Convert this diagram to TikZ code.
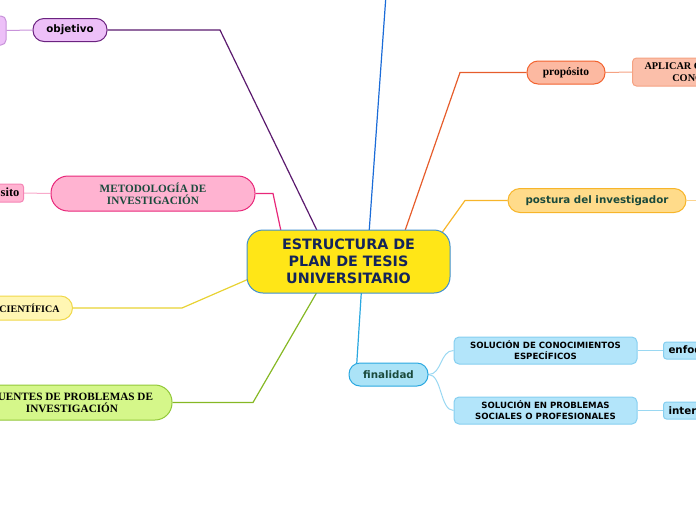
\documentclass[tikz,border=0pt]{standalone}
\usepackage{fontspec}
\setmainfont{DejaVu Sans}
\newfontfamily\serifb{Liberation Serif}
\usetikzlibrary{backgrounds,calc}
\definecolor{cfill}{HTML}{FFE617}
\definecolor{cbord}{HTML}{3E8FD1}
\definecolor{ctext}{HTML}{13245A}
\definecolor{gtext}{HTML}{1A4A3C}
\definecolor{vfill}{HTML}{EDC0F8}
\definecolor{vbord}{HTML}{6B2380}
\definecolor{vlight}{HTML}{C892DA}
\definecolor{vline}{HTML}{5B1A6E}
\definecolor{pfill}{HTML}{FFB3D1}
\definecolor{pbord}{HTML}{E8287A}
\definecolor{plight}{HTML}{F585B5}
\definecolor{yfill}{HTML}{FFF6B3}
\definecolor{ybord}{HTML}{F0D84A}
\definecolor{yline}{HTML}{E8D232}
\definecolor{gfill}{HTML}{D5F78A}
\definecolor{gbord}{HTML}{92C83A}
\definecolor{gline}{HTML}{86B824}
\definecolor{bline}{HTML}{1B6CD8}
\definecolor{ofill}{HTML}{FCB9A1}
\definecolor{obord}{HTML}{F2622E}
\definecolor{olight}{HTML}{F5A282}
\definecolor{aflll}{HTML}{FBBFAA}
\definecolor{pofill}{HTML}{FFDB8A}
\definecolor{pobord}{HTML}{F7B52A}
\definecolor{polight}{HTML}{FCD48E}
\definecolor{lbfill}{HTML}{ABE3F7}
\definecolor{lbbord}{HTML}{2AA8E0}
\definecolor{sfill}{HTML}{B3E5FA}
\definecolor{sbord}{HTML}{86CFF0}
\definecolor{slight}{HTML}{9AD8F2}
\tikzset{
  mm/.style={draw, line width=1pt, align=center, inner sep=0pt},
  pill/.style={mm, rounded corners=11pt},
  sansb/.style={font=\bfseries\fontsize{10.3}{12}\selectfont},
  serb/.style={font=\serifb\bfseries\fontsize{11.2}{12}\selectfont},
  br/.style={line width=1.2pt},
  lt/.style={line width=1pt},
}
\begin{document}
\begin{tikzpicture}[x=1pt,y=-1pt]
\useasboundingbox (0,0) rectangle (696,520);
% central
\node[mm, rounded corners=16pt, fill=cfill, draw=cbord, text=ctext,
  minimum width=203pt, minimum height=63pt,
  font=\bfseries\fontsize{14.3}{17}\selectfont] (c) at (348.5,261.5)
  {ESTRUCTURA DE\\PLAN DE TESIS\\ UNIVERSITARIO};
% left side
\node[pill, fill=vfill, draw=vbord, sansb, minimum width=74pt, minimum height=23pt] (obj) at (70,30) {objetivo};
\node[mm, rounded corners=5pt, fill=vfill, draw=vlight, minimum width=26pt, minimum height=29pt] (vleft) at (-7,30.5) {};
\node[mm, rounded corners=17pt, fill=pfill, draw=pbord, serb, text=gtext, minimum width=204pt, minimum height=35pt] (met) at (153,193.5) {METODOLOGÍA DE\\INVESTIGACIÓN};
\node[mm, rounded corners=3pt, fill=pfill, draw=plight, font=\serifb\bfseries\fontsize{12.5}{12}\selectfont, anchor=east, inner xsep=4pt, minimum height=18pt] (sito) at (24,193) {propósito};
\node[pill, rounded corners=12pt, fill=yfill, draw=ybord, font=\serifb\bfseries\fontsize{10}{12}\selectfont, anchor=east, inner xsep=13pt, minimum height=24pt] (cien) at (73,308) {CIENTÍFICA};
\node[mm, rounded corners=17pt, fill=gfill, draw=gbord, serb, minimum width=200pt, minimum height=35pt] (fuen) at (72,402.5) {FUENTES DE PROBLEMAS DE\\INVESTIGACIÓN};
% right side
\node[pill, fill=ofill, draw=obord, font=\serifb\bfseries\fontsize{11.5}{12}\selectfont, minimum width=78pt, minimum height=23pt] (prop) at (566,72.5) {propósito};
\node[mm, rounded corners=4pt, fill=aflll, draw=olight, font=\serifb\bfseries\fontsize{10.3}{12}\selectfont, anchor=west, inner xsep=12pt, minimum height=28pt] (apl) at (632,72) {APLICAR CONOCIMIENTOS\\CONCEPTUALES};
\node[pill, rounded corners=12pt, fill=pofill, draw=pobord, sansb, text=gtext, minimum width=178pt, minimum height=24pt] (post) at (597,200.5) {postura del investigador};
\node[pill, fill=lbfill, draw=lbbord, sansb, text=gtext, minimum width=79pt, minimum height=23pt] (fin) at (388.5,374.5) {finalidad};
\node[mm, rounded corners=5pt, fill=sfill, draw=sbord, font=\bfseries\fontsize{8.6}{11}\selectfont, minimum width=183pt, minimum height=27pt] (s1) at (545.5,350.5) {SOLUCIÓN DE CONOCIMIENTOS\\ESPECÍFICOS};
\node[mm, rounded corners=5pt, fill=sfill, draw=sbord, font=\bfseries\fontsize{8.6}{11}\selectfont, minimum width=183pt, minimum height=27pt] (s2) at (545.5,410.5) {SOLUCIÓN EN PROBLEMAS\\SOCIALES O PROFESIONALES};
\node[mm, rounded corners=3pt, fill=sfill, draw=sbord, sansb, anchor=west, inner xsep=5pt, minimum height=17pt] (enf) at (663,350.5) {enfoque};
\node[mm, rounded corners=3pt, fill=sfill, draw=sbord, sansb, anchor=west, inner xsep=5pt, minimum height=17pt] (inter) at (663,410.5) {intervención};
% coordinates
\coordinate (kp) at (220,30);
\coordinate (km) at (273,193.5);
\coordinate (kb) at (386,-5);
\coordinate (ko) at (460,72.5);
\coordinate (kpo) at (465,200.5);
\coordinate (kpr) at (702,200.5);
\coordinate (ky) at (182,308);
\coordinate (kg) at (253,402.5);
\begin{pgfonlayer}{background}
\draw[br, vline] (obj.east) -- (kp) -- ($(c.north)+(-30,4)$);
\draw[br, pbord] (met.east) -- (km) -- ($(c.north west)+(35,4)$);
\draw[br, bline] ($(c.north)+(20.5,4)$) -- (kb);
\draw[br, obord!95!black] ($(c.north)+(55.5,4)$) -- (ko) -- (prop.west);
\draw[br, pobord] ($(c.north east)+(-12,8)$) -- (kpo) -- (post.west);
\draw[br, yline] ($(c.west)+(8,15)$) -- (ky) -- (cien.east);
\draw[br, gline] ($(c.south)+(-30,-4)$) -- (kg) -- (fuen.east);
\draw[br, lbbord] ($(c.south)+(13,-4)$) -- ($(fin.north west)+(8,5)$);
\draw[lt, vlight] (obj.west) -- (vleft.east);
\draw[lt, plight!70!white] (met.west) -- (sito.east);
\draw[lt, olight] (prop.east) -- (apl.west);
\draw[lt, polight] (post.east) -- (kpr);
\draw[lt, slight] (fin.east) .. controls (442,374.5) and (440,350.5) .. (s1.west);
\draw[lt, slight] (fin.east) .. controls (442,374.5) and (440,410.5) .. (s2.west);
\draw[lt, slight] (s1.east) -- (enf.west);
\draw[lt, slight] (s2.east) -- (inter.west);
\end{pgfonlayer}
\end{tikzpicture}
\end{document}
